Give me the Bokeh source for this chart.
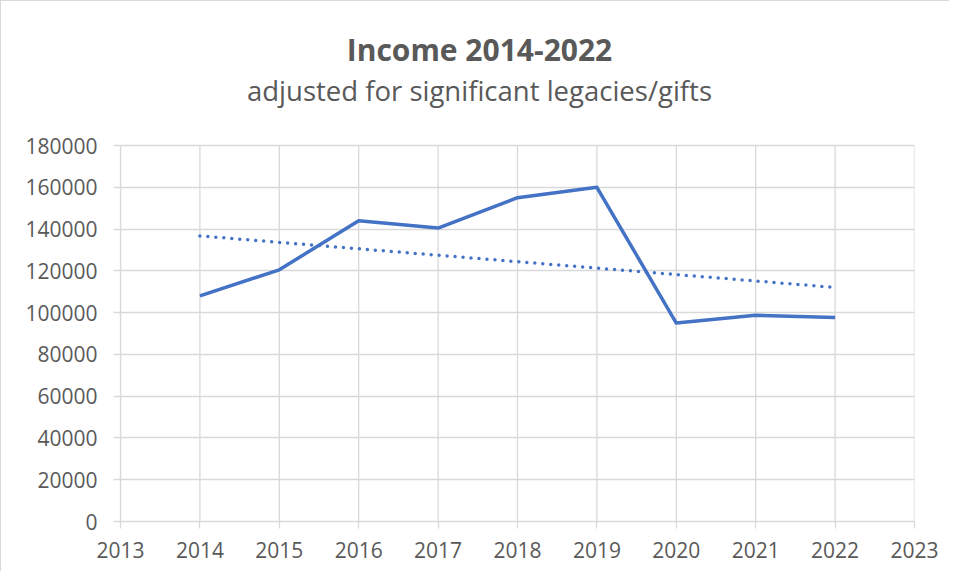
import numpy as np
from bokeh.plotting import figure
from bokeh.models import Label, FixedTicker, PrintfTickFormatter, Range1d
from bokeh.embed import file_html
from bokeh.resources import INLINE

years = [2014, 2015, 2016, 2017, 2018, 2019, 2020, 2021, 2022]
income = [108000, 120500, 144000, 140500, 155000, 160000, 95000, 98700, 97700]
x_ticks = list(range(2013, 2024))
y_ticks = list(range(0, 180001, 20000))
title_text = "Income 2014-2022"
subtitle_text = "adjusted for significant legacies/gifts"

# linear trendline (least squares fit of the series, as in the original)
slope, intercept = np.polyfit(years, income, 1)
trend_x = [years[0], years[-1]]
trend_y = [slope * x + intercept for x in trend_x]

FONT = "Open Sans"
GREY = "#595959"
GRID = "#D9D9D9"
BLUE = "#4472C4"

# layout (pixels)
W, H = 949, 571
FL, FR, FB = 119, 36, 51
PLOT_TOP = 144                    # pixel where the value axis top (180000) sits
frame_h = H - FB                  # frame runs from the canvas top to the x axis
y_min_axis, y_max_axis = y_ticks[0], y_ticks[-1]
y_top = y_max_axis * frame_h / (frame_h - PLOT_TOP)

p = figure(width=W, height=H, output_backend="svg", toolbar_location=None,
           x_range=Range1d(x_ticks[0], x_ticks[-1]), y_range=Range1d(0, y_top),
           min_border_left=FL, min_border_right=FR, min_border_bottom=FB,
           min_border_top=0)
p.styles = {"border-left": "1px solid #d9d9d9", "border-top": "1px solid #d9d9d9"}

cx = 478 - FL
p.add_layout(Label(x=cx, y=frame_h - 48, x_units="screen", y_units="screen",
                   text=title_text, text_align="center", text_baseline="alphabetic",
                   text_font=FONT, text_font_size="30px", text_font_style="bold",
                   text_color=GREY))
p.add_layout(Label(x=cx, y=frame_h - 89, x_units="screen", y_units="screen",
                   text=subtitle_text, text_align="center", text_baseline="alphabetic",
                   text_font=FONT, text_font_size="27.5px", text_color=GREY))

p.outline_line_color = None
p.background_fill_color = "white"
p.border_fill_color = "white"

p.xaxis.ticker = FixedTicker(ticks=x_ticks)
p.yaxis.ticker = FixedTicker(ticks=y_ticks)
p.xaxis.formatter = PrintfTickFormatter(format="%d")
p.yaxis.formatter = PrintfTickFormatter(format="%d")
p.yaxis.bounds = (y_min_axis, y_max_axis)

for ax in (p.xaxis, p.yaxis):
    ax.axis_line_color = GRID
    ax.axis_line_width = 1.3
    ax.major_tick_line_color = GRID
    ax.major_tick_line_width = 1.3
    ax.major_tick_in = 0
    ax.major_tick_out = 7
    ax.minor_tick_line_color = None
    ax.major_label_text_font = FONT
    ax.major_label_text_font_size = "21px"
    ax.major_label_text_color = GREY
p.xaxis.major_label_standoff = 13
p.yaxis.major_label_standoff = 16

# horizontal gridlines from the value ticks
p.ygrid.grid_line_color = GRID
p.ygrid.grid_line_width = 1.3
# vertical gridlines limited to the value axis extent
p.xgrid.grid_line_color = None
p.segment(x0=x_ticks, x1=x_ticks, y0=[y_min_axis] * len(x_ticks),
          y1=[y_max_axis] * len(x_ticks), line_color=GRID, line_width=1.3)

p.line(years, income, line_color=BLUE, line_width=3.5, line_join="round")
p.line(trend_x, trend_y, line_color=BLUE, line_width=3.5, line_dash="0 8",
       line_cap="round")

open("out.html", "w").write(file_html(p, INLINE))
